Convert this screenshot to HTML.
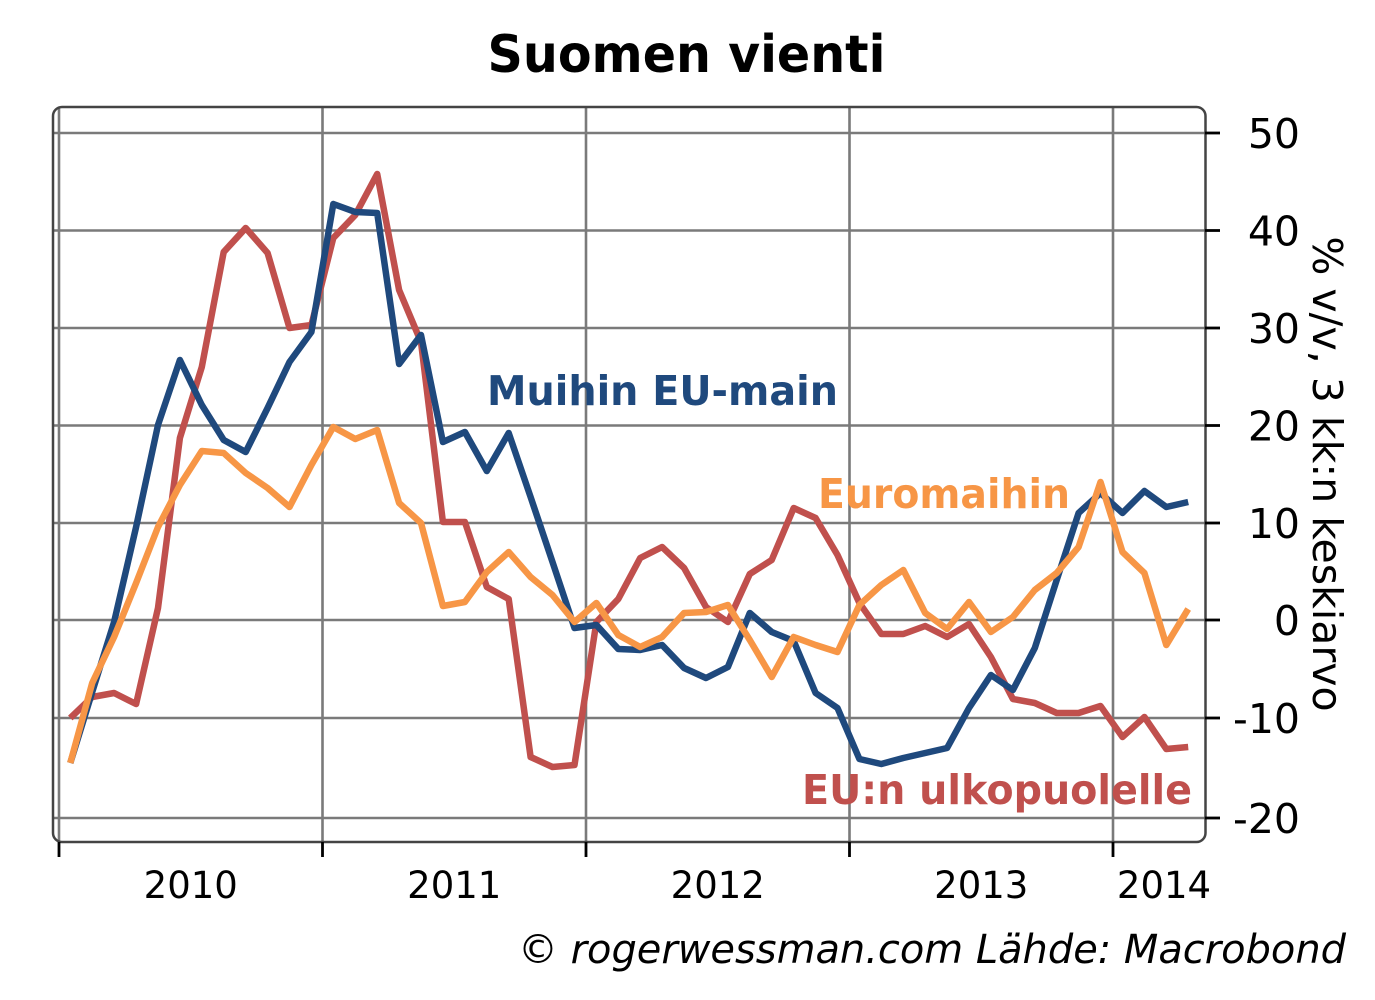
<!DOCTYPE html>
<html><head><meta charset="utf-8"><style>
html,body{margin:0;padding:0;background:#fff;}
svg{display:block;}
text{font-family:"DejaVu Sans","Liberation Sans",sans-serif;}
</style></head><body>
<svg width="1375" height="1000" viewBox="0 0 1375 1000" xmlns="http://www.w3.org/2000/svg">
<rect width="1375" height="1000" fill="#fff"/>
<text x="686.5" y="72" font-size="52" font-weight="bold" text-anchor="middle" textLength="398" lengthAdjust="spacingAndGlyphs" fill="#000">Suomen vienti</text>
<!-- gridlines -->
<g stroke="#7a7a7a" stroke-width="2.6">
<line x1="53" y1="133" x2="1205" y2="133"/>
<line x1="53" y1="230.5" x2="1205" y2="230.5"/>
<line x1="53" y1="328" x2="1205" y2="328"/>
<line x1="53" y1="425.5" x2="1205" y2="425.5"/>
<line x1="53" y1="523" x2="1205" y2="523"/>
<line x1="53" y1="620" x2="1205" y2="620"/>
<line x1="53" y1="718" x2="1205" y2="718"/>
<line x1="53" y1="818" x2="1205" y2="818"/>
<line x1="59" y1="107" x2="59" y2="842"/>
<line x1="322.5" y1="107" x2="322.5" y2="842"/>
<line x1="586" y1="107" x2="586" y2="842"/>
<line x1="849.5" y1="107" x2="849.5" y2="842"/>
<line x1="1113" y1="107" x2="1113" y2="842"/>
</g>
<rect x="53" y="107" width="1152.5" height="735" rx="9" ry="9" fill="none" stroke="#444" stroke-width="2.5"/>
<!-- ticks -->
<g stroke="#000" stroke-width="2.8">
<line x1="1205" y1="133" x2="1220" y2="133"/>
<line x1="1205" y1="230.5" x2="1220" y2="230.5"/>
<line x1="1205" y1="328" x2="1220" y2="328"/>
<line x1="1205" y1="425.5" x2="1220" y2="425.5"/>
<line x1="1205" y1="523" x2="1220" y2="523"/>
<line x1="1205" y1="620" x2="1220" y2="620"/>
<line x1="1205" y1="718" x2="1220" y2="718"/>
<line x1="1205" y1="818" x2="1220" y2="818"/>
<line x1="59" y1="842" x2="59" y2="857"/>
<line x1="322.5" y1="842" x2="322.5" y2="857"/>
<line x1="586" y1="842" x2="586" y2="857"/>
<line x1="849.5" y1="842" x2="849.5" y2="857"/>
<line x1="1113" y1="842" x2="1113" y2="857"/>
</g>
<!-- right labels -->
<g font-size="41" text-anchor="end" fill="#000">
<text x="1300" y="148">50</text>
<text x="1300" y="245.5">40</text>
<text x="1300" y="343">30</text>
<text x="1300" y="440.5">20</text>
<text x="1300" y="538">10</text>
<text x="1300" y="635">0</text>
<text x="1300" y="733">-10</text>
<text x="1300" y="833">-20</text>
</g>
<text transform="translate(1313,474) rotate(90)" font-size="41" text-anchor="middle" fill="#000">% v/v, 3 kk:n keskiarvo</text>
<!-- bottom labels -->
<g font-size="37" text-anchor="middle" fill="#000">
<text x="190.75" y="898">2010</text>
<text x="454.25" y="898">2011</text>
<text x="717.75" y="898">2012</text>
<text x="981.25" y="898">2013</text>
<text x="1164" y="898">2014</text>
</g>
<!-- series -->
<g fill="none" stroke-width="6.5" stroke-linejoin="round" stroke-linecap="butt">
<polyline stroke="#C0504D" points="70.3,718 92.2,697 114.1,693 136.1,704 158,608 179.9,438 201.8,367 223.7,252 245.7,228 267.6,253 289.5,328 311.4,325 333.3,238 355.3,215 377.2,174 399.1,290 421,342 442.9,522 464.9,522 486.8,587 508.7,599 530.6,757 552.5,767 574.5,765 596.4,622 618.3,599 640.2,558 662.1,547 684.1,568 706,607 727.9,622 749.8,574 771.7,560 793.7,508 815.6,518 837.5,555 859.4,603 881.3,634 903.3,634 925.2,626 947.1,637 969,624 990.9,657 1012.9,699 1034.8,703 1056.7,713 1078.6,713 1100.5,706 1122.5,737 1144.4,717 1166.3,749 1188.2,747"/>
<polyline stroke="#1F497D" points="70.3,763 92.2,692 114.1,622 136.1,527 158,425 179.9,360 201.8,405 223.7,440 245.7,452 267.6,408 289.5,362 311.4,332 333.3,204 355.3,212 377.2,213 399.1,364 421,335 442.9,442 464.9,432 486.8,471 508.7,433 530.6,497 552.5,562 574.5,628 596.4,625 618.3,649 640.2,650 662.1,645 684.1,668 706,678 727.9,667 749.8,613 771.7,632 793.7,641 815.6,693 837.5,708 859.4,759 881.3,764 903.3,758 925.2,753 947.1,748 969,708 990.9,675 1012.9,690 1034.8,648 1056.7,580 1078.6,513 1100.5,493 1122.5,513 1144.4,491 1166.3,507 1188.2,502"/>
<polyline stroke="#F79646" points="70.3,763 92.2,683 114.1,637 136.1,583 158,527 179.9,485 201.8,451 223.7,453 245.7,473 267.6,488 289.5,507 311.4,465 333.3,427 355.3,439 377.2,430 399.1,503 421,523 442.9,606 464.9,602 486.8,572 508.7,552 530.6,577 552.5,595 574.5,622 596.4,603 618.3,635 640.2,647 662.1,637 684.1,613 706,612 727.9,605 749.8,640 771.7,677 793.7,637 815.6,645 837.5,652 859.4,605 881.3,585 903.3,570 925.2,613 947.1,629 969,602 990.9,632 1012.9,617 1034.8,590 1056.7,573 1078.6,547 1100.5,482 1122.5,552 1144.4,573 1166.3,645 1188.2,609"/>
</g>
<!-- series labels -->
<g font-size="41" font-weight="bold">
<text x="487" y="405" fill="#1F497D" textLength="351" lengthAdjust="spacingAndGlyphs">Muihin EU-main</text>
<text x="818" y="508" fill="#F79646" textLength="252" lengthAdjust="spacingAndGlyphs">Euromaihin</text>
<text x="802" y="804" fill="#C0504D" textLength="390" lengthAdjust="spacingAndGlyphs">EU:n ulkopuolelle</text>
</g>
<text x="518" y="963" font-size="40" font-style="italic" fill="#000" textLength="828" lengthAdjust="spacingAndGlyphs">© rogerwessman.com Lähde: Macrobond</text>
</svg>
</body></html>
